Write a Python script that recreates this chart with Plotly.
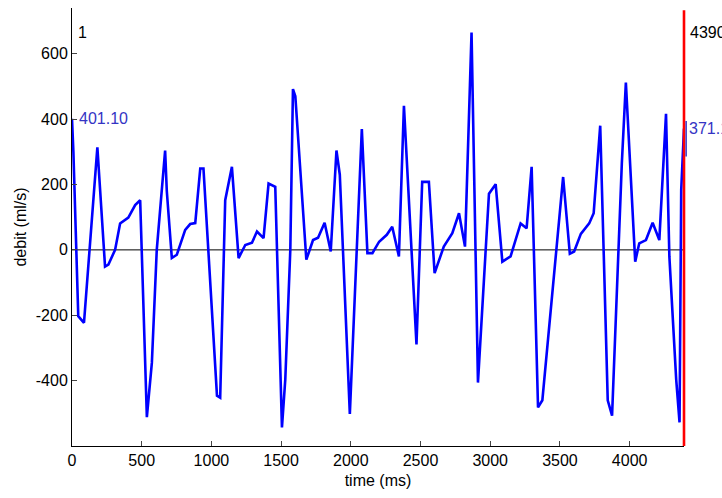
import plotly.graph_objects as go

# time (ms) and flow (ml/s)
t = [0, 10, 45, 86, 182, 237, 261, 309, 345, 404, 453, 489, 537, 573, 608, 668, 680,
     716, 752, 812, 848, 884, 920, 943, 1040, 1063, 1099, 1147, 1195, 1243, 1291, 1327,
     1374, 1410, 1458, 1506, 1530, 1566, 1585, 1602, 1681, 1729, 1765, 1812, 1856, 1897,
     1921, 1993, 2079, 2119, 2155, 2203, 2258, 2297, 2345, 2381, 2471, 2512, 2560, 2601,
     2667, 2728, 2776, 2819, 2866, 2912, 2991, 3039, 3087, 3146, 3218, 3261, 3297, 3343,
     3374, 3523, 3571, 3602, 3650, 3710, 3742, 3789, 3843, 3874, 3944, 3973, 4040, 4069,
     4117, 4165, 4213, 4261, 4285, 4334, 4358, 4370, 4390]
v = [401, 300, -203, -223, 314, -51, -45, 0, 81, 99, 137, 152, -512, -345, 0, 304, 180,
     -25, -15, 61, 79, 82, 249, 249, -446, -452, 152, 254, -25, 15, 22, 56,
     36, 203, 193, -543, -396, 0, 492, 470, -30, 30, 37, 83, -5, 304,
     230, -502, 370, -10, -10, 25, 46, 71, -20, 441, -289, 208, 208, -71,
     10, 51, 112, 10, 665, -406, 172, 201, -36, -20, 81, 66, 254, -482,
     -460, 223, -12, -5, 49, 81, 112, 380, -460, -507, 264, 512, -36, 20,
     30, 83, 30, 416, -20, -396, -528, 183, 371]

x_ticks = [0, 500, 1000, 1500, 2000, 2500, 3000, 3500, 4000]
y_ticks = [-400, -200, 0, 200, 400, 600]
y_range = [-600, 740]
cursor_left, cursor_right = 0, 4390
left_value, right_value = 401.10, 371.10

font = dict(family="Liberation Sans, Arial, sans-serif", size=16, color="black")
txt_blue = "#3434c4"

fig = go.Figure()
fig.add_trace(go.Scatter(x=[0, cursor_right], y=[0, 0], mode="lines",
                         line=dict(color="black", width=1), hoverinfo="skip"))
fig.add_trace(go.Scatter(x=t, y=v, mode="lines",
                         line=dict(color="#0000ff", width=2.6)))

# red cursor line at the last sample (right edge of the axes)
fig.add_shape(type="line", xref="paper", yref="paper", x0=1, x1=1, y0=0, y1=0.995,
              line=dict(color="#ff0000", width=2.6))
# small blue value marker just right of the cursor
fig.add_shape(type="line", xref="paper", yref="y", x0=1.0035, x1=1.0035, y0=286, y1=394,
              line=dict(color=txt_blue, width=1.5))

fig.add_annotation(x=cursor_left, y=664, text="1", showarrow=False,
                   xanchor="left", xshift=4, font=font)
fig.add_annotation(x=cursor_left, y=left_value, text="%.2f" % left_value, showarrow=False,
                   xanchor="left", xshift=5, font=dict(font, color=txt_blue))
fig.add_annotation(x=cursor_right, y=664, text=str(cursor_right), showarrow=False,
                   xanchor="left", xshift=4, font=font)
fig.add_annotation(x=cursor_right, y=right_value, text="%.2f" % right_value, showarrow=False,
                   xanchor="left", xshift=3, font=dict(font, color=txt_blue))

fig.update_layout(
    width=722, height=498,
    margin=dict(l=72, r=38, t=8, b=52),
    paper_bgcolor="white", plot_bgcolor="white",
    showlegend=False, font=font,
)
fig.update_xaxes(range=[0, cursor_right], tickvals=x_ticks,
                 ticktext=[str(x) for x in x_ticks], ticks="inside", ticklen=5,
                 showline=True, linecolor="black", linewidth=1, showgrid=False,
                 zeroline=False, automargin=False, tickfont=font,
                 title=dict(text="time (ms)", font=font, standoff=6))
fig.update_yaxes(range=y_range, tickvals=y_ticks,
                 ticktext=[str(y) for y in y_ticks], ticks="inside", ticklen=5,
                 showline=True, linecolor="black", linewidth=1, showgrid=False,
                 zeroline=False, automargin=False, tickfont=font,
                 title=dict(text="debit (ml/s)", font=font, standoff=5))

fig.write_html("out.html", config={"displayModeBar": False},
               post_script="document.body.style.margin='0';document.body.style.padding='0';")
